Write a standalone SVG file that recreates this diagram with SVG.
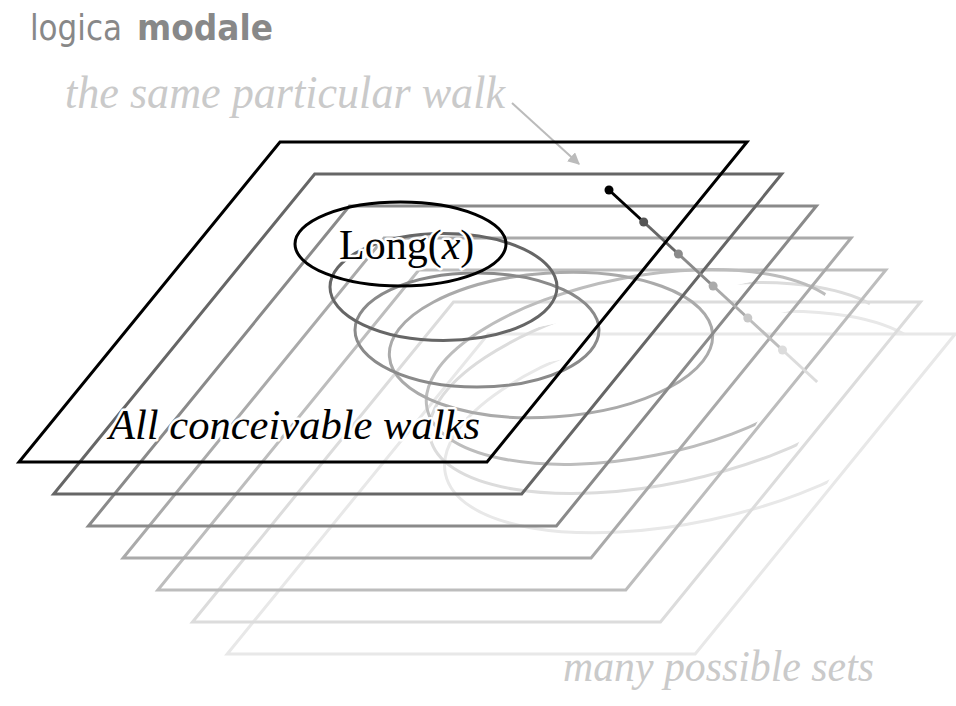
<svg xmlns="http://www.w3.org/2000/svg" width="956" height="706" viewBox="0 0 956 706">
  <style>
    .plane { fill: none; stroke-width: 3; stroke-linejoin: miter; }
    .set { fill: none; stroke-width: 3; }
    .halo { paint-order: stroke; stroke: #fff; stroke-width: 5; stroke-linejoin: round; }
    .note { font-family: "Liberation Serif", "Times New Roman", serif; font-style: italic; fill: #cacaca; }
  </style>
  <defs>
    <marker id="arrow" viewBox="0 0 10 10" refX="9" refY="5" markerWidth="6" markerHeight="6" markerUnits="strokeWidth" orient="auto">
      <path d="M0,0 L10,5 L0,10 z" fill="#bbb"/>
    </marker>
    <clipPath id="c0"><polygon points="280,142 747,142 487,462 19,462"/></clipPath>
    <clipPath id="c1"><polygon points="314.7,174 781.7,174 521.7,494 53.7,494"/></clipPath>
    <clipPath id="c2"><polygon points="349.4,206 816.4,206 556.4,526 88.4,526"/></clipPath>
    <clipPath id="c3"><polygon points="384.1,238 851.1,238 591.1,558 123.1,558"/></clipPath>
    <clipPath id="c4"><polygon points="418.8,270 885.8,270 625.8,590 157.8,590"/></clipPath>
    <clipPath id="c5"><polygon points="453.5,302 920.5,302 660.5,622 192.5,622"/></clipPath>
    <clipPath id="c6"><polygon points="488.2,334 955.2,334 695.2,654 227.2,654"/></clipPath>
  </defs>

  <rect width="956" height="706" fill="#fff"/>

  <g id="plane6">
    <polygon class="plane" stroke="#e8e8e8" points="488.2,334 955.2,334 695.2,654 227.2,654"/>
    <ellipse class="set" stroke="#e8e8e8" clip-path="url(#c6)" cx="690" cy="422" rx="250" ry="100" transform="rotate(-12 690 422)"/>
  </g>
  <g id="plane5">
    <polygon class="plane" stroke="#dcdcdc" points="453.5,302 920.5,302 660.5,622 192.5,622"/>
    <ellipse class="set" stroke="#dcdcdc" clip-path="url(#c5)" cx="665" cy="388" rx="240" ry="95" transform="rotate(-12 665 388)"/>
  </g>
  <g id="plane4">
    <polygon class="plane" stroke="#bdbdbd" points="418.8,270 885.8,270 625.8,590 157.8,590"/>
    <ellipse class="set" stroke="#bdbdbd" clip-path="url(#c4)" cx="638" cy="367" rx="215" ry="90" transform="rotate(-11 638 367)"/>
  </g>
  <g id="plane3">
    <polygon class="plane" stroke="#aaa" points="384.1,238 851.1,238 591.1,558 123.1,558"/>
    <ellipse class="set" stroke="#aaa" clip-path="url(#c3)" cx="551" cy="345" rx="162" ry="72" transform="rotate(-4 551 345)"/>
  </g>
  <g id="plane2">
    <polygon class="plane" stroke="#8a8a8a" points="349.4,206 816.4,206 556.4,526 88.4,526"/>
    <ellipse class="set" stroke="#8a8a8a" clip-path="url(#c2)" cx="477" cy="330" rx="122" ry="57"/>
  </g>
  <g id="plane1">
    <polygon class="plane" stroke="#666" points="314.7,174 781.7,174 521.7,494 53.7,494"/>
    <ellipse class="set" stroke="#666" clip-path="url(#c1)" cx="443.5" cy="287" rx="113.5" ry="53.5"/>
  </g>

  <g id="connectors">
    <g stroke-width="3" fill="none">
      <line x1="782.5" y1="350" x2="817.2" y2="382" stroke="#dcdcdc"/>
      <line x1="747.8" y1="318" x2="782.5" y2="350" stroke="#bdbdbd"/>
      <line x1="713.1" y1="286" x2="747.8" y2="318" stroke="#aaa"/>
      <line x1="678.4" y1="254" x2="713.1" y2="286" stroke="#8a8a8a"/>
      <line x1="643.7" y1="222" x2="678.4" y2="254" stroke="#666"/>
      <line x1="609" y1="190" x2="643.7" y2="222" stroke="#000"/>
    </g>
    <circle cx="782.5" cy="350" r="4.5" fill="#dcdcdc"/>
    <circle cx="747.8" cy="318" r="4.5" fill="#c8c8c8"/>
    <circle cx="713.1" cy="286" r="4.5" fill="#aaa"/>
    <circle cx="678.4" cy="254" r="4.5" fill="#8a8a8a"/>
    <circle cx="643.7" cy="222" r="4.5" fill="#555"/>
    <circle cx="609" cy="190" r="4.5" fill="#000"/>
    <line x1="512" y1="103" x2="579" y2="164" stroke="#bbb" stroke-width="2" marker-end="url(#arrow)"/>
  </g>

  <g id="plane0">
    <polygon class="plane" stroke="#000" points="280,142 747,142 487,462 19,462"/>
    <ellipse class="set" stroke="#000" clip-path="url(#c0)" cx="400.5" cy="244" rx="105.5" ry="42"/>
  </g>

  <g id="labels">
    <text class="halo" x="339" y="259" font-family="Liberation Serif, Times New Roman, serif" font-size="42" fill="#000">Long(<tspan font-style="italic">x</tspan>)</text>
    <text class="halo" x="109" y="439" font-family="Liberation Serif, Times New Roman, serif" font-size="42" font-style="italic" fill="#000" textLength="371" lengthAdjust="spacingAndGlyphs">All conceivable walks</text>
    <text class="note" x="65" y="108" font-size="46" textLength="440" lengthAdjust="spacingAndGlyphs">the same particular walk</text>
    <text class="note" x="563" y="681" font-size="44" textLength="311" lengthAdjust="spacingAndGlyphs">many possible sets</text>
  </g>

  <g id="title" font-family="DejaVu Sans, Verdana, sans-serif" font-size="35" fill="#888">
    <text x="30" y="40" textLength="92" lengthAdjust="spacingAndGlyphs">logica</text>
    <text x="137" y="40" font-weight="bold" textLength="136" lengthAdjust="spacingAndGlyphs">modale</text>
  </g>
</svg>
